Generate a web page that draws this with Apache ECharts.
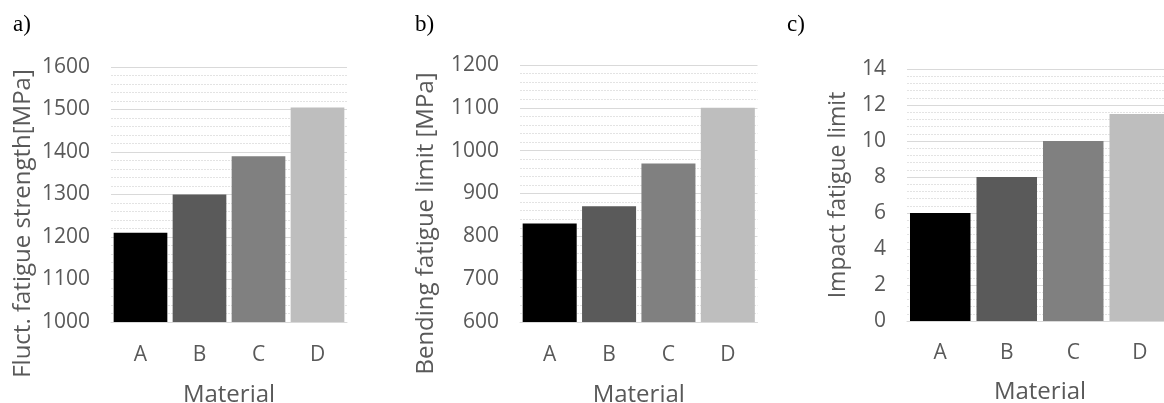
<!DOCTYPE html>
<html>
<head>
<meta charset="utf-8">
<script src="https://cdn.jsdelivr.net/npm/echarts@6/dist/echarts.min.js"></script>
<style>
  html, body { margin: 0; padding: 0; background: #ffffff; }
  #chart { width: 1164px; height: 403px; }
</style>
</head>
<body>
<div id="chart"></div>
<script>
// Materials and the three measured properties
const materials = ['A', 'B', 'C', 'D'];
const flucFatigueStrength = [1210, 1300, 1390, 1505];   // MPa
const bendingFatigueLimit = [830, 870, 970, 1100];      // MPa
const impactFatigueLimit = [6, 8, 10, 11.5];
const panelLabels = ['a)', 'b)', 'c)'];
const yTitles = ['Fluct. fatigue strength[MPa]', 'Bending fatigue limit [MPa]', 'Impact fatigue limit'];
const xTitle = 'Material';
const barColors = ['#000000', '#5a5a5a', '#808080', '#bebebe'];

const textColor = '#595959';
const font = 'Open Sans';

// Panel c runs past the right edge of the canvas
const grids = [
  { left: 111, width: 236, top: 67, height: 255 },
  { left: 520, width: 237.5, top: 65, height: 257 },
  { left: 907, width: 266, top: 69, height: 252 }
];
const yRanges = [
  { min: 1000, max: 1600, interval: 100 },
  { min: 600, max: 1200, interval: 100 },
  { min: 0, max: 14, interval: 2 }
];
const yNameGap = [76, 82, 57];
const yNamePad = [[0, 58, 0, 0], [0, 60, 0, 0], [0, 0, 0, 0]];
const seriesData = [flucFatigueStrength, bendingFatigueLimit, impactFatigueLimit];

const option = {
  animation: false,
  title: panelLabels.map((t, i) => ({
    text: t,
    left: [13, 415, 787][i],
    top: 13,
    padding: 0,
    textStyle: { fontFamily: 'Liberation Serif', fontSize: 23, fontWeight: 'normal', color: '#000000' }
  })),
  grid: grids.map(g => Object.assign({ containLabel: false, outerBoundsMode: 'none' }, g)),
  xAxis: grids.map((g, i) => ({
    type: 'category',
    gridIndex: i,
    data: materials,
    name: xTitle,
    nameLocation: 'middle',
    nameGap: i === 2 ? 59 : 61,
    nameMoveOverlap: false,
    nameTextStyle: { fontFamily: font, fontSize: 24, color: textColor },
    axisLine: { show: true, lineStyle: { color: '#d9d9d9', width: 1 } },
    axisTick: { show: false },
    axisLabel: { fontFamily: font, fontSize: 21, color: textColor, margin: i === 2 ? 22 : 23 },
    splitLine: { show: false }
  })),
  yAxis: grids.map((g, i) => ({
    type: 'value',
    gridIndex: i,
    min: yRanges[i].min,
    max: yRanges[i].max,
    interval: yRanges[i].interval,
    name: yTitles[i],
    nameLocation: 'middle',
    nameGap: yNameGap[i],
    nameMoveOverlap: false,
    nameTextStyle: { fontFamily: font, fontSize: i === 2 ? 23 : 24, color: textColor, padding: yNamePad[i] },
    axisLine: { show: false },
    axisTick: { show: false },
    axisLabel: {
      fontFamily: font, fontSize: 21, color: textColor, margin: 21,
      formatter: v => String(v)
    },
    splitLine: { show: true, lineStyle: { color: '#d9d9d9', width: 1 } },
    minorTick: { show: false, splitNumber: 5 },
    minorSplitLine: { show: true, lineStyle: { color: '#e3e3e3', width: 1, type: [2, 1] } }
  })),
  series: seriesData.map((vals, i) => ({
    type: 'bar',
    xAxisIndex: i,
    yAxisIndex: i,
    barCategoryGap: '9%',
    data: vals.map((v, k) => ({ value: v, itemStyle: { color: barColors[k] } }))
  }))
};

const chart = echarts.init(document.getElementById('chart'), null, { renderer: 'canvas' });
chart.setOption(option);
</script>
</body>
</html>
